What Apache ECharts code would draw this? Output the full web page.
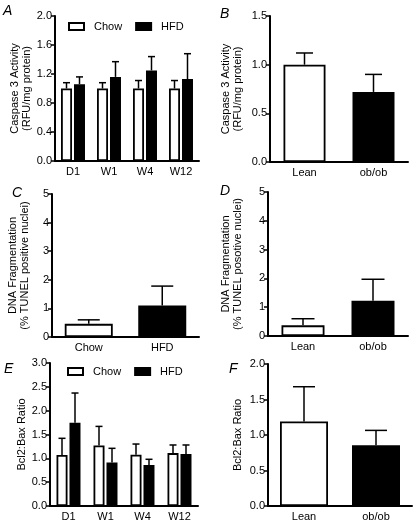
<!DOCTYPE html>
<html>
<head>
<meta charset="utf-8">
<script src="https://cdn.jsdelivr.net/npm/echarts@6/dist/echarts.min.js"></script>
<style>
html,body{margin:0;padding:0;background:#fff;}
#c{width:416px;height:525px;}
</style>
</head>
<body>
<div id="c"></div>
<script>
// ---- data ----
const timeCats = ['D1', 'W1', 'W4', 'W12'];
const dietCats = ['Chow', 'HFD'];
const obCats = ['Lean', 'ob/ob'];

// A: Caspase 3 activity, diet time course
const caspChow = [1.0, 1.0, 1.0, 1.0];
const caspChowSem = [0.08, 0.08, 0.11, 0.11];
const caspHfd = [1.06, 1.16, 1.25, 1.13];
const caspHfdSem = [0.10, 0.21, 0.19, 0.35];

// B: Caspase 3 activity, Lean vs ob/ob
const caspOb = [1.0, 0.72];
const caspObSem = [0.12, 0.18];

// C: DNA fragmentation, Chow vs HFD
const tunelDiet = [0.46, 1.10];
const tunelDietSem = [0.14, 0.68];

// D: DNA fragmentation, Lean vs ob/ob
const tunelOb = [0.37, 1.22];
const tunelObSem = [0.23, 0.75];

// E: Bcl2:Bax ratio, diet time course
const bclChow = [1.07, 1.27, 1.075, 1.11];
const bclChowSem = [0.35, 0.40, 0.225, 0.17];
const bclHfd = [1.745, 0.91, 0.86, 1.09];
const bclHfdSem = [0.625, 0.30, 0.12, 0.19];

// F: Bcl2:Bax ratio, Lean vs ob/ob
const bclOb = [1.19, 0.855];
const bclObSem = [0.49, 0.21];

// tick settings
const yA = {min: 0, max: 2, interval: 0.4, dec: 1};
const yB = {min: 0, max: 1.5, interval: 0.5, dec: 1};
const yC = {min: 0, max: 5, interval: 1, dec: 0};
const yD = {min: 0, max: 5, interval: 1, dec: 0};
const yE = {min: 0, max: 3, interval: 0.5, dec: 1};
const yF = {min: 0, max: 2, interval: 0.5, dec: 1};

// ---- build ----
const FONT = 'Liberation Sans';
const grids = [
  {left: 55, top: 16, width: 144, height: 145},
  {left: 270, top: 16, width: 138, height: 146},
  {left: 52, top: 194, width: 147, height: 143},
  {left: 268, top: 192, width: 140, height: 144},
  {left: 50, top: 363, width: 148, height: 143},
  {left: 268, top: 364, width: 144, height: 142}
];
const panelCats = [timeCats, obCats, dietCats, obCats, timeCats, obCats];
const yCfg = [yA, yB, yC, yD, yE, yF];
const yNames = [
  'Caspase 3 Activity\n(RFU/mg protein)',
  'Caspase 3 Activity\n(RFU/mg protein)',
  'DNA Fragmentation\n(% TUNEL positive nuclei)',
  'DNA Fragmentation\n(% TUNEL posotive nuclei)',
  'Bcl2:Bax Ratio',
  'Bcl2:Bax Ratio'
];
const nameGaps = [22, 26, 21, 24, 22, 24];

const xAxis = panelCats.map((cats, i) => ({
  type: 'category', gridIndex: i, data: cats,
  axisLine: {lineStyle: {color: '#000', width: 2}},
  axisTick: {show: false},
  axisLabel: {color: '#000', fontFamily: FONT, fontSize: 11, margin: 5}
}));
const yAxis = yCfg.map((c, i) => ({
  type: 'value', gridIndex: i, min: c.min, max: c.max, interval: c.interval,
  name: yNames[i], nameLocation: 'middle', nameGap: nameGaps[i],
  nameTextStyle: {color: '#000', fontFamily: FONT, fontSize: 11, lineHeight: 12},
  axisLine: {show: true, lineStyle: {color: '#000', width: 2}},
  axisTick: {show: true, length: 4, lineStyle: {color: '#000', width: 1.5}},
  splitLine: {show: false},
  axisLabel: {color: '#000', fontFamily: FONT, fontSize: 11, margin: 3,
    formatter: v => v.toFixed(c.dec)}
}));

const whiteBar = {color: '#fff', borderColor: '#000', borderWidth: 1.8};
const blackBar = {color: '#000', borderColor: '#000', borderWidth: 1.8};

function errSeries(idx, means, sems, offsetPx, cap) {
  return {
    type: 'custom', xAxisIndex: idx, yAxisIndex: idx, z: 5,
    data: means.map((m, k) => [k, m, m + sems[k]]),
    renderItem: function (params, api) {
      const x = api.value(0);
      const p0 = api.coord([x, api.value(1)]);
      const p1 = api.coord([x, api.value(2)]);
      const cx = p0[0] + offsetPx;
      const st = {stroke: '#000', lineWidth: 1.5};
      return {type: 'group', children: [
        {type: 'line', shape: {x1: cx, y1: p0[1], x2: cx, y2: p1[1]}, style: st},
        {type: 'line', shape: {x1: cx - cap / 2, y1: p1[1], x2: cx + cap / 2, y2: p1[1]}, style: st}
      ]};
    }
  };
}

const series = [];
// grouped panels A (0) and E (4)
[[0, caspChow, caspChowSem, caspHfd, caspHfdSem], [4, bclChow, bclChowSem, bclHfd, bclHfdSem]].forEach(p => {
  const [i, c, cs, h, hs] = p;
  series.push({name: 'Chow', type: 'bar', xAxisIndex: i, yAxisIndex: i, data: c,
    barWidth: 11, barGap: '18%', itemStyle: whiteBar});
  series.push({name: 'HFD', type: 'bar', xAxisIndex: i, yAxisIndex: i, data: h,
    barWidth: 11, barGap: '18%', itemStyle: blackBar});
  series.push(errSeries(i, c, cs, -6.5, 7));
  series.push(errSeries(i, h, hs, 6.5, 7));
});
// two-bar panels
[[1, caspOb, caspObSem, 42, 17], [2, tunelDiet, tunelDietSem, 48, 22],
 [3, tunelOb, tunelObSem, 43, 23], [5, bclOb, bclObSem, 48, 22]].forEach(p => {
  const [i, vals, sems, bw, cap] = p;
  series.push({type: 'bar', xAxisIndex: i, yAxisIndex: i, barWidth: bw,
    data: vals.map((v, k) => ({value: v, itemStyle: k === 0 ? whiteBar : blackBar}))});
  series.push(errSeries(i, vals, sems, 0, cap));
});

const legendBase = {
  data: ['Chow', 'HFD'], icon: 'rect', itemWidth: 15, itemHeight: 7, itemGap: 13,
  textStyle: {color: '#000', fontFamily: FONT, fontSize: 11, padding: [0, 0, 0, 5]},
  selectedMode: false, padding: 0
};
const legend = [
  Object.assign({}, legendBase, {left: 68, top: 21}),
  Object.assign({}, legendBase, {left: 67, top: 366})
];

const letters = [['A', 3, 4], ['B', 220, 7], ['C', 12, 186], ['D', 220, 184], ['E', 4, 362], ['F', 229, 362]];
const graphic = letters.map(l => ({
  type: 'text', left: l[1], top: l[2],
  style: {text: l[0], font: 'italic 14px "Liberation Sans"', fill: '#000'}
}));

const chart = echarts.init(document.getElementById('c'), null, {renderer: 'canvas'});
chart.setOption({
  animation: false,
  backgroundColor: '#fff',
  grid: grids,
  xAxis: xAxis,
  yAxis: yAxis,
  legend: legend,
  series: series,
  graphic: graphic
});
</script>
</body>
</html>
